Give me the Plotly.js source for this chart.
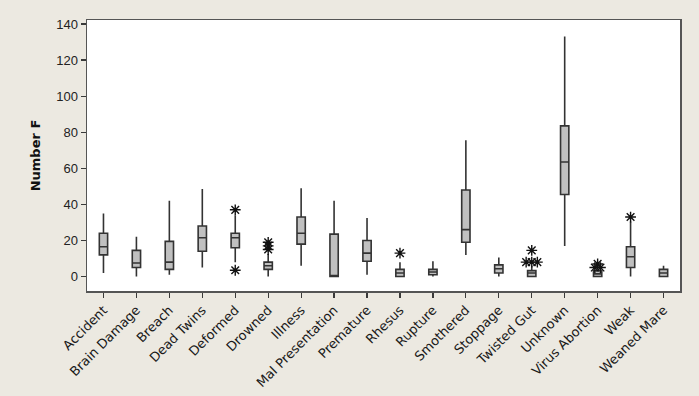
<!DOCTYPE html>
<html>
<head>
<meta charset="utf-8">
<script src="https://cdn.plot.ly/plotly-3.0.1.min.js"></script>
<style>html,body{margin:0;padding:0;background:#ECE9E1;}</style>
</head>
<body>
<div id="chart" style="width:699px;height:396px;"></div>
<script>
const categories = ["Accident","Brain Damage","Breach","Dead Twins","Deformed","Drowned","Illness","Mal Presentation","Premature","Rhesus","Rupture","Smothered","Stoppage","Twisted Gut","Unknown","Virus Abortion","Weak","Weaned Mare"];
const lowerFence = [2, 0, 1, 5, 8, 0, 6, 0, 1, 0, 0, 12, 0, 0, 17, 0, 0, 0];
const q1Values   = [12, 5, 4, 14, 16, 4, 18, 0, 8.5, 0, 1, 19, 2, 0, 45.5, 0, 5, 0];
const medians    = [16.5, 7.5, 8, 21.5, 21.5, 6, 24, 0, 13, 2, 2.5, 26, 4.3, 2, 63.5, 1.5, 11, 2];
const q3Values   = [24, 14.5, 19.5, 28, 24, 8, 33, 23.5, 20, 4, 4, 48, 6.5, 3.3, 83.5, 3.3, 16.5, 4];
const upperFence = [35, 22, 42, 48.5, 34, 12.5, 49, 42, 32.5, 8, 8.5, 75.5, 10.5, 6, 133, 3.3, 30.5, 6];
// outliers: category name and value
const outlierCats = ["Deformed","Deformed","Drowned","Drowned","Drowned","Rhesus","Twisted Gut","Twisted Gut","Twisted Gut","Twisted Gut","Virus Abortion","Virus Abortion","Virus Abortion","Weak"];
const outlierVals = [37, 3.5, 19, 17, 15, 13, 14.5, 8, 8, 8, 7, 5, 5, 33];

const pos = categories.map((c, i) => i);

// spread identical outliers side by side (as the original software does)
const ox = [], oy = [];
const seen = {};
outlierCats.forEach((c, k) => {
  const key = c + "|" + outlierVals[k];
  seen[key] = (seen[key] || 0) + 1;
});
const used = {};
outlierCats.forEach((c, k) => {
  const key = c + "|" + outlierVals[k];
  const n = seen[key];
  const j = used[key] || 0;
  used[key] = j + 1;
  const off = n > 1 ? (j - (n - 1) / 2) * 0.17 : 0;
  ox.push(categories.indexOf(c) + off);
  oy.push(outlierVals[k]);
});

const boxTrace = {
  type: "box",
  x: pos,
  q1: q1Values,
  median: medians,
  q3: q3Values,
  lowerfence: lowerFence,
  upperfence: upperFence,
  fillcolor: "#C0C0C0",
  line: {color: "#333333", width: 1.6},
  whiskerwidth: 0,
  boxpoints: false,
  hoverinfo: "skip"
};

const outTrace = {
  type: "scatter",
  mode: "markers",
  x: ox,
  y: oy,
  marker: {symbol: "asterisk-open", size: 9, color: "#111", line: {color: "#111", width: 1.4}},
  hoverinfo: "skip"
};

const layout = {
  width: 699, height: 396,
  paper_bgcolor: "#ECE9E1",
  plot_bgcolor: "#FFFFFF",
  margin: {l: 87, r: 19, t: 20, b: 105},
  showlegend: false,
  boxgap: 0.64,
  font: {family: "DejaVu Sans, sans-serif", color: "#222"},
  xaxis: {
    range: [-0.5, 17.5],
    tickmode: "array",
    tickvals: pos,
    ticktext: categories,
    tickangle: -45,
    ticks: "outside", ticklen: 5, tickwidth: 1.2, tickcolor: "#3A3A3A",
    showgrid: false, zeroline: false,
    showline: true, linecolor: "#555", linewidth: 1.5, mirror: true,
    tickfont: {family: "DejaVu Sans, sans-serif", size: 13, color: "#1a1a1a"}
  },
  yaxis: {
    range: [-8, 142.2],
    tickvals: [0, 20, 40, 60, 80, 100, 120, 140],
    ticks: "outside", ticklen: 5, tickwidth: 1.2, tickcolor: "#3A3A3A",
    showgrid: false, zeroline: false,
    showline: true, linecolor: "#555", linewidth: 1.5, mirror: true,
    tickfont: {family: "Liberation Sans, sans-serif", size: 13, color: "#222"},
    title: {text: "Number F", font: {family: "DejaVu Sans, sans-serif", size: 13, color: "#111", weight: "bold"}, standoff: 12}
  }
};

Plotly.newPlot("chart", [boxTrace, outTrace], layout, {staticPlot: true, displayModeBar: false});
</script>
</body>
</html>
